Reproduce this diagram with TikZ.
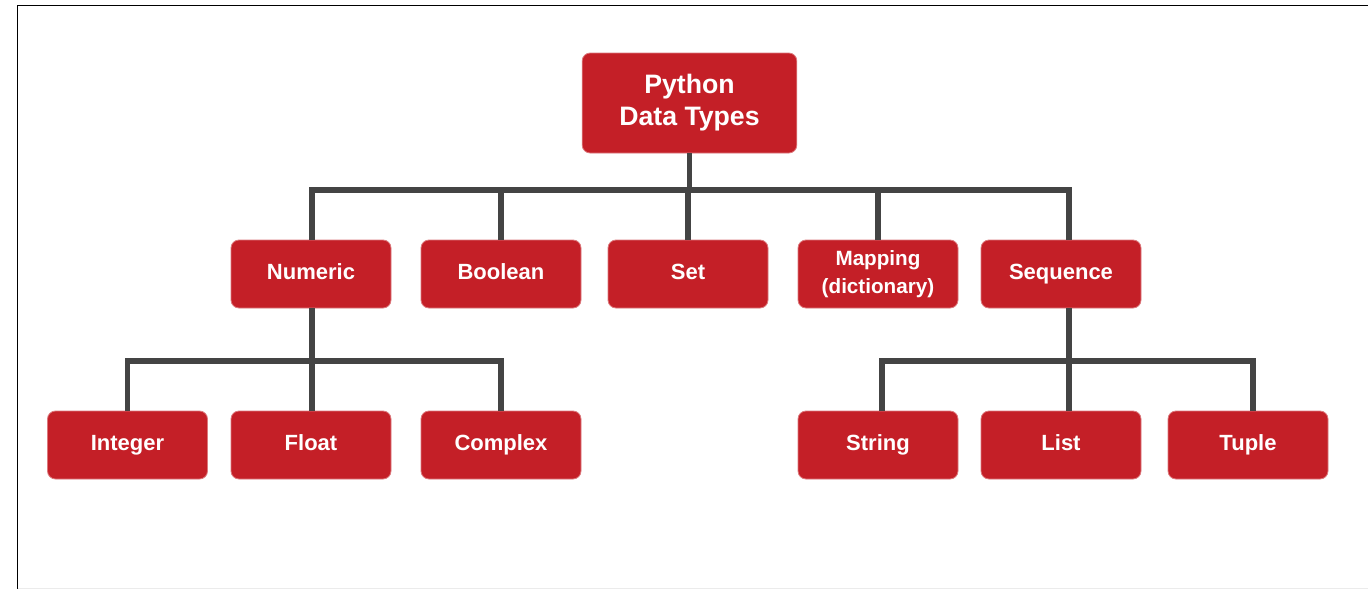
\documentclass[tikz,border=0pt]{standalone}
\usepackage{fontspec}
\setmainfont{Liberation Sans}
\definecolor{boxred}{HTML}{C41F27}
\definecolor{linegray}{HTML}{444444}
\tikzset{
  tbase/.style={draw=boxred!60, line width=0.6pt, fill=boxred, rounded corners=6pt, text=white,
    font=\bfseries\fontsize{16.5}{18}\selectfont, align=center,
    minimum width=120pt, minimum height=51pt, inner sep=0pt},
  tbox/.style={tbase, text height=12pt, text depth=4.5pt},
  rootbox/.style={tbase, minimum width=161pt, minimum height=75pt,
    font=\bfseries\fontsize{20}{24}\selectfont},
  conn/.style={linegray, line width=3.8pt},
  frame/.style={black, line width=1.2pt}
}
\begin{document}
\begin{tikzpicture}[x=0.75pt,y=-0.75pt]
\useasboundingbox (0,0) rectangle (1368,589);
\fill[white] (0,0) rectangle (1368,589);
\draw[frame] (17.5,589) -- (17.5,5.5) -- (1368,5.5);
\draw[black!8, line width=0.8pt] (17.5,588.5) -- (1368,588.5);
\coordinate (bus) at (0,190);
\coordinate (busl) at (0,361);
% nodes
\node[rootbox] (root) at (689.5,103) {Python\\Data Types};
\node[tbox] (numeric) at (311,274) {Numeric};
\node[tbox] (boolean) at (501,274) {Boolean};
\node[tbox] (set) at (688,274) {Set};
\node[tbase, font=\bfseries\fontsize{15.5}{21}\selectfont] (mapping) at (878,274) {Mapping\\(dictionary)};
\node[tbox] (sequence) at (1061,274) {Sequence};
\node[tbox] (integer) at (127.5,445) {Integer};
\node[tbox] (float) at (311,445) {Float};
\node[tbox] (complex) at (501,445) {Complex};
\node[tbox] (string) at (878,445) {String};
\node[tbox] (list) at (1061,445) {List};
\node[tbox] (tuple) at (1248,445) {Tuple};
% offset attachment points
\coordinate (seqT) at ([xshift=6pt]sequence.north);
\coordinate (seqB) at ([xshift=6pt]sequence.south);
\coordinate (listT) at ([xshift=6pt]list.north);
\coordinate (strT) at ([xshift=3pt]string.north);
\coordinate (tupT) at ([xshift=3.75pt]tuple.north);
\coordinate (numT) at ([xshift=0.75pt]numeric.north);
\coordinate (numB) at ([xshift=0.75pt]numeric.south);
\coordinate (fltT) at ([xshift=0.75pt]float.north);
% connectors
\draw[conn] (root.south) -- (root.south |- bus);
\draw[conn] (numT) -- (numT |- bus) -- (seqT |- bus) -- (seqT);
\draw[conn] (boolean.north) -- (boolean.north |- bus);
\draw[conn] (set.north) -- (set.north |- bus);
\draw[conn] (mapping.north) -- (mapping.north |- bus);
\draw[conn] (numB) -- (numB |- busl);
\draw[conn] (integer.north) -- (integer.north |- busl) -- (complex.north |- busl) -- (complex.north);
\draw[conn] (fltT) -- (fltT |- busl);
\draw[conn] (seqB) -- (seqB |- busl);
\draw[conn] (strT) -- (strT |- busl) -- (tupT |- busl) -- (tupT);
\draw[conn] (listT) -- (listT |- busl);
\end{tikzpicture}
\end{document}
